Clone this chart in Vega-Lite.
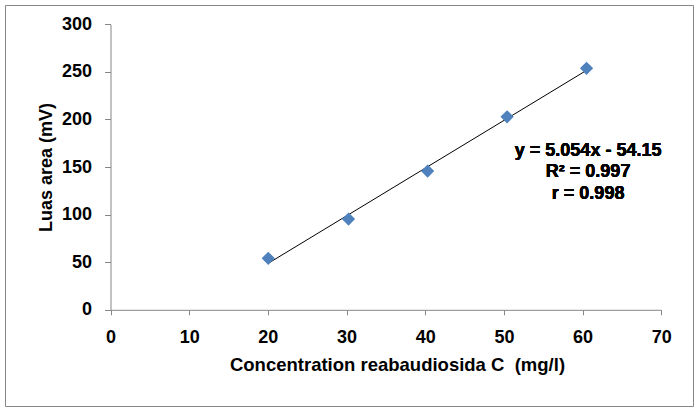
{
  "$schema": "https://vega.github.io/schema/vega-lite/v6.json",
  "width": 688,
  "height": 401,
  "autosize": {"type": "none"},
  "padding": {"left": 5, "top": 5, "right": 4, "bottom": 3},
  "background": "white",
  "config": {
    "view": {"stroke": "#868686", "strokeWidth": 1},
    "font": "Liberation Sans",
    "axis": {
      "grid": false,
      "labelFlush": false,
      "labelOverlap": false,
      "domainColor": "#868686",
      "tickColor": "#868686",
      "labelFont": "Liberation Sans",
      "labelFontSize": 18,
      "labelFontWeight": "bold",
      "labelColor": "black",
      "titleFont": "Liberation Sans",
      "titleFontSize": 18,
      "titleFontWeight": "bold",
      "titleColor": "black"
    }
  },
  "data": {
    "values": [
      {"conc": 20.05, "area": 54.1},
      {"conc": 30.25, "area": 95.4},
      {"conc": 40.3, "area": 145.8},
      {"conc": 50.4, "area": 202.8},
      {"conc": 60.5, "area": 253.7}
    ]
  },
  "encoding": {
    "x": {
      "field": "conc",
      "type": "quantitative",
      "scale": {"domain": [0, 70], "range": [105.5, 656.3], "nice": false, "zero": false},
      "axis": {
        "title": "Concentration reabaudiosida C \u00a0(mg/l)",
        "values": [0, 10, 20, 30, 40, 50, 60, 70],
        "offset": -96.2,
        "tickSize": 5,
        "labelPadding": 14,
        "titleX": 392,
        "titleY": 61,
        "titleFontSize": 18.5,
        "titleBaseline": "alphabetic",
        "titleAlign": "center"
      }
    },
    "y": {
      "field": "area",
      "type": "quantitative",
      "scale": {"domain": [0, 300], "range": [304.8, 19.3], "nice": false, "zero": false},
      "axis": {
        "title": "Luas area (mV)",
        "values": [0, 50, 100, 150, 200, 250, 300],
        "offset": -105.5,
        "tickSize": 6,
        "labelPadding": 13,
        "titleX": -59,
        "titleY": 162,
        "titleBaseline": "alphabetic",
        "titleAlign": "center",
        "titleAngle": -90
      }
    }
  },
  "layer": [
    {
      "transform": [{"regression": "area", "on": "conc"}],
      "mark": {"type": "line", "color": "black", "strokeWidth": 1}
    },
    {
      "mark": {"type": "point", "shape": "diamond", "filled": true, "color": "#4F81BD", "opacity": 1, "size": 175}
    },
    {
      "mark": {
        "type": "text",
        "font": "Liberation Sans",
        "fontSize": 18,
        "fontWeight": "bold",
        "align": "center",
        "baseline": "alphabetic",
        "lineHeight": 21.4,
        "color": "black"
      },
      "encoding": {
        "x": {"datum": 60.7},
        "y": {"datum": 161.6},
        "text": {"value": ["y = 5.054x - 54.15", "R² = 0.997", "r = 0.998"]}
      }
    }
  ]
}
